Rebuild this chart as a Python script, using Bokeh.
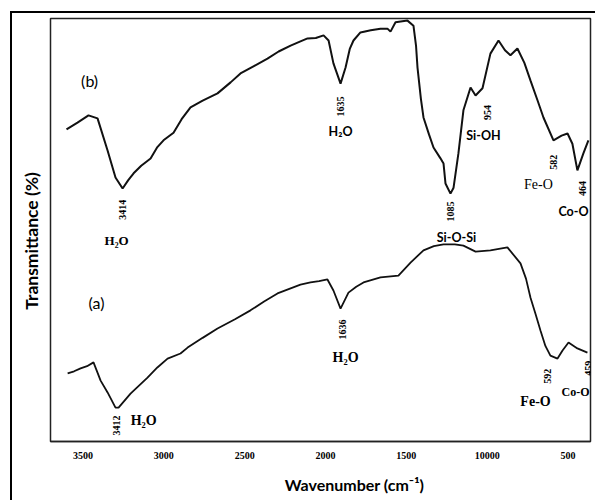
import math
from bokeh.plotting import figure
from bokeh.models import Range1d, FixedTicker, ColumnDataSource
from bokeh.embed import file_html
from bokeh.resources import INLINE
from bokeh.core.properties import value

# ---------------- data ----------------
# spectrum (b) : upper trace
wn_b = [3602, 3534, 3466, 3410, 3348, 3299, 3255, 3220, 3187, 3140, 3082, 3040, 3002,
        2940, 2890, 2835, 2760, 2668, 2587, 2526, 2440, 2359, 2290, 2216, 2155, 2111,
        2060, 2012, 1981, 1951, 1907, 1876, 1850, 1827, 1784, 1720, 1660, 1617, 1598,
        1567, 1493, 1456, 1440, 1431, 1410, 1394, 1360, 1332, 1290, 1270, 1258, 1227,
        1208, 1178, 1147, 1103, 1072, 1029, 980, 930, 890, 856, 813, 770, 732,
        690, 652, 590, 540, 503, 473, 442, 405, 374]
t_b = [73.8, 75.4, 77.1, 76.4, 68.8, 62.4, 59.8, 61.8, 63.4, 65.2, 66.9, 69.6, 71.2,
       73.0, 76.2, 79.0, 80.6, 82.3, 84.9, 87.0, 88.8, 90.5, 92.2, 93.6, 94.6, 95.3,
       95.4, 96.0, 94.8, 89.4, 84.6, 88.4, 92.8, 94.8, 96.7, 97.2, 97.6, 97.6, 96.9,
       99.1, 99.5, 98.3, 93.5, 88.4, 81.0, 76.6, 72.6, 69.5, 67.0, 65.7, 61.0, 58.6,
       60.0, 68.1, 78.3, 83.7, 81.8, 83.5, 91.7, 94.8, 92.5, 91.3, 92.9, 89.5, 85.3,
       80.8, 76.6, 71.2, 72.3, 72.8, 70.4, 64.1, 68.1, 71.2]

# spectrum (a) : lower trace
wn_a = [3595, 3555, 3515, 3475, 3435, 3391, 3348, 3299, 3280, 3206, 3101, 3040, 2977,
        2897, 2853, 2760, 2668, 2560, 2464, 2380, 2297, 2155, 2093, 2040, 1988, 1951,
        1907, 1858, 1810, 1765, 1660, 1549, 1474, 1394, 1330, 1270, 1200, 1147, 1072,
        980, 875, 794, 760, 732, 700, 670, 640, 609, 565, 534, 497, 442, 380]
t_a = [16.1, 16.6, 17.3, 17.8, 18.7, 14.4, 11.6, 8.0, 8.0, 11.3, 15.1, 17.5, 19.6,
       20.8, 22.2, 24.5, 26.7, 28.9, 31.0, 33.1, 35.0, 37.1, 37.6, 37.9, 38.3, 35.7,
       31.4, 35.2, 36.6, 37.6, 38.8, 39.2, 42.3, 45.2, 46.2, 46.6, 46.6, 46.3, 44.9,
       45.2, 45.9, 42.1, 38.5, 34.0, 30.0, 26.2, 22.6, 20.3, 19.6, 21.5, 23.4, 22.0,
       21.0]

tick_values = [3500, 3000, 2500, 2000, 1500, 1000, 500]
tick_labels = ["3500", "3000", "2500", "2000", "1500", "10000", "500"]

# peak annotations
peak_text = ["3414", "1635", "1085", "954", "582", "464", "3412", "1636", "592", "459"]
peak_x = [3255, 1907, 1227, 998, 590, 411, 3292, 1895, 627, 374]
peak_y = [54.8, 79.2, 54.4, 77.8, 66.0, 59.8, 3.8, 26.5, 15.4, 17.3]

# band assignments
sans_text = ["H\u2082O", "Si-O-Si", "Si-OH", "Co-O"]
sans_x = [1907, 1190, 1023, 466]
sans_y = [73.3, 48.2, 72.3, 54.4]

serif_text = ["H\u2082O", "H\u2082O", "H\u2082O", "Fe-O", "Co-O"]
serif_x = [3292, 3125, 1876, 701, 454]
serif_y = [47.5, 5.0, 19.9, 9.5, 11.6]
serif_size = ["13px", "14px", "14px", "14px", "12px"]

# ---------------- figure ----------------
# canvas sits 12 px from the left / 13 px from the top, behind the outer frame lines
p = figure(width=585, height=489, x_range=Range1d(3701, 361), y_range=Range1d(0, 100),
           output_backend="svg", toolbar_location=None,
           min_border_left=38, min_border_right=7, min_border_top=5, min_border_bottom=61)
p.styles = {"margin-left": "10px", "margin-top": "11px",
            "border-left": "2px solid black", "border-top": "2px solid black"}
p.background_fill_color = "white"
p.border_fill_color = "white"
p.grid.visible = False
p.outline_line_color = "#222222"
p.outline_line_width = 1.5

p.line(wn_b, t_b, line_color="#111111", line_width=2)
p.line(wn_a, t_a, line_color="#111111", line_width=1.8)

# x axis
xa = p.xaxis[0]
xa.ticker = FixedTicker(ticks=tick_values)
xa.major_label_overrides = {v: l for v, l in zip(tick_values, tick_labels)}
xa.major_tick_in = 0
xa.major_tick_out = 0
xa.minor_tick_line_color = None
xa.axis_line_color = "#222222"
xa.axis_line_width = 1.5
xa.major_label_standoff = 10
xa.major_label_text_font = "Liberation Serif"
xa.major_label_text_font_style = "bold"
xa.major_label_text_font_size = "10px"
xa.major_label_text_color = "black"
xa.axis_label = "\u2003\u2003\u2003\u2003\u2003\u2002Wavenumber (cm\u207b\u00b9)"
xa.axis_label_text_font = "Lato"
xa.axis_label_text_font_style = "bold"
xa.axis_label_text_font_size = "16px"
xa.axis_label_text_color = "black"
xa.axis_label_standoff = 13

# y axis
ya = p.yaxis[0]
ya.ticker = FixedTicker(ticks=[])
ya.axis_label = "Transmittance (%)\u2003\u2002"
ya.axis_label_text_font = "Lato"
ya.axis_label_text_font_style = "bold"
ya.axis_label_text_font_size = "17.5px"
ya.axis_label_text_color = "black"
ya.axis_label_standoff = 9
ya.major_label_standoff = 0
ya.major_tick_in = 0
ya.major_tick_out = 0
ya.minor_tick_line_color = None
ya.axis_line_color = None

# panel labels
p.text(x=[3459, 3416], y=[85.3, 32.9], text=["(b)", "(a)"], text_font=value("Lato"),
       text_font_size="16px", text_align="center", text_baseline="middle", text_color="black")

# peak numbers (rotated)
p.text(x=peak_x, y=peak_y, text=peak_text, angle=math.pi / 2,
       text_font=value("Liberation Serif"), text_font_style="bold", text_font_size="10px",
       text_align="center", text_baseline="middle", text_color="black")

p.text(x=sans_x, y=sans_y, text=sans_text, text_font=value("Lato"), text_font_style="bold",
       text_font_size="12.5px", text_align="center", text_baseline="middle", text_color="black")

src = ColumnDataSource(dict(x=serif_x, y=serif_y, text=serif_text, size=serif_size))
p.text(x="x", y="y", text="text", text_font_size="size", source=src,
       text_font=value("Liberation Serif"), text_font_style="bold",
       text_align="center", text_baseline="middle", text_color="black")

p.text(x=[683], y=[60.8], text=["Fe-O"], text_font=value("Liberation Serif"),
       text_font_size="14px", text_align="center", text_baseline="middle", text_color="black")

open("out.html", "w").write(file_html(p, INLINE))
